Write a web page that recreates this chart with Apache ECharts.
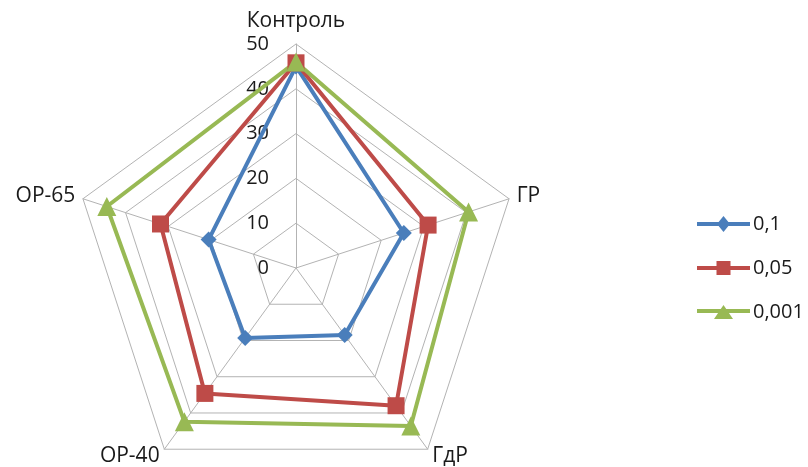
<!DOCTYPE html>
<html>
<head>
<meta charset="utf-8">
<script src="https://cdn.jsdelivr.net/npm/echarts@6/dist/echarts.min.js"></script>
<style>
  html, body { margin: 0; padding: 0; background: #ffffff; }
  #chart { width: 808px; height: 467px; }
</style>
</head>
<body>
<div id="chart"></div>
<script>
// Radar axes, counter-clockwise from the top (ECharts lays indicators out counter-clockwise)
const indicators = ['Контроль', 'ОР-65', 'ОР-40', 'ГдР', 'ГР'];
const seriesNames = ['0,1', '0,05', '0,001'];
const values01 = [45, 20.5, 19.3, 18.5, 25.3];
const values005 = [45.8, 31.8, 34.6, 38, 31];
const values0001 = [46, 44.4, 42.4, 43.6, 40.5];
const axisMax = 50;
const axisStep = 10;

const FONT = '"Open Sans", "Liberation Sans", sans-serif';
const colors = ['#4a7ebb', '#be4b48', '#98b954'];
const symbols = ['diamond', 'rect', 'triangle'];
const symbolSizes = [16, 17, 19];
const allValues = [values01, values005, values0001];

// Legend keys: a short line with the series marker in the middle
const legendIcons = [
  'path://M0 6H53V10H0Z M26.5 0L33 8L26.5 16L20 8Z',
  'path://M0 6H53V10H0Z M19.5 1H33.5V15H19.5Z',
  'path://M0 6H53V10H0Z M26.5 2L36 16L17 16Z'
];

const chart = echarts.init(document.getElementById('chart'), null, { renderer: 'canvas' });

const option = {
  backgroundColor: '#ffffff',
  animation: false,
  color: colors,
  legend: {
    orient: 'vertical',
    left: 692,
    top: 209,
    itemWidth: 53,
    itemHeight: 16,
    itemGap: 24,
    textStyle: { fontFamily: FONT, fontSize: 20, color: '#1a1a1a', padding: [0, 0, 0, -2] },
    data: seriesNames.map(function (name, i) {
      return { name: name, icon: legendIcons[i] };
    })
  },
  radar: {
    center: [296, 268],
    radius: 224,
    startAngle: 90,
    shape: 'polygon',
    splitNumber: axisMax / axisStep,
    nameGap: 8,
    axisName: {
      color: '#1a1a1a',
      fontFamily: FONT,
      fontSize: 21,
      formatter: function (name) {
        return name === indicators[0] ? '{top|' + name + '}' : name;
      },
      rich: {
        top: { fontFamily: FONT, fontSize: 21, color: '#1a1a1a', padding: [0, 0, 4, 0] }
      }
    },
    splitArea: { show: false },
    splitLine: { lineStyle: { color: '#b3b3b3', width: 1 } },
    axisLine: { lineStyle: { color: '#b3b3b3', width: 1 } },
    axisLabel: { show: false },
    indicator: indicators.map(function (name, i) {
      const ind = { name: name, min: 0, max: axisMax };
      if (i === 0) {
        ind.axisLabel = {
          show: true,
          fontFamily: FONT,
          fontSize: 20,
          color: '#1a1a1a',
          margin: 27
        };
      }
      return ind;
    })
  },
  series: [{
    type: 'radar',
    data: seriesNames.map(function (name, i) {
      return {
        name: name,
        value: allValues[i],
        symbol: symbols[i],
        symbolSize: symbolSizes[i],
        lineStyle: { color: colors[i], width: 4 },
        itemStyle: { color: colors[i] }
      };
    })
  }]
};

chart.setOption(option);
</script>
</body>
</html>
